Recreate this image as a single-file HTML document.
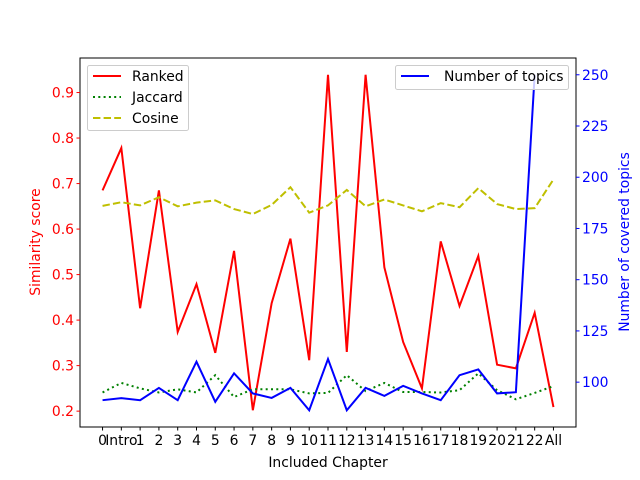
<!DOCTYPE html>
<html><head><meta charset="utf-8"><style>
body{margin:0;background:#fff}
svg{display:block;font-family:"DejaVu Sans","Liberation Sans",sans-serif}
</style></head><body>
<svg id="chart" width="640" height="480" viewBox="0 0 640 480" xmlns="http://www.w3.org/2000/svg">
<rect width="640" height="480" fill="#fff"/>
<g id="plot"></g>
</svg>
<script>
const categories=["0","Intro","1","2","3","4","5","6","7","8","9","10","11","12","13","14","15","16","17","18","19","20","21","22","All"];
const ranked=[0.685,0.778,0.426,0.685,0.374,0.479,0.328,0.552,0.202,0.437,0.579,0.312,0.939,0.330,0.939,0.516,0.352,0.250,0.573,0.431,0.541,0.302,0.294,0.416,0.209];
const jaccard=[0.241,0.262,0.250,0.241,0.248,0.241,0.279,0.231,0.248,0.248,0.248,0.239,0.240,0.279,0.244,0.262,0.242,0.242,0.241,0.246,0.283,0.246,0.226,0.240,0.255];
const cosine=[0.651,0.659,0.652,0.670,0.650,0.658,0.663,0.644,0.633,0.653,0.692,0.636,0.652,0.686,0.650,0.665,0.652,0.639,0.657,0.648,0.690,0.655,0.644,0.646,0.709];
const topics=[91.2,92.2,91.2,97.2,91.2,110,90.4,104.3,94.5,92.3,97.2,86.3,111.3,86.3,97.2,93.3,98.2,94.5,91.2,103.4,106.2,94.5,95.1,250];
const leftTicks=[0.2,0.3,0.4,0.5,0.6,0.7,0.8,0.9];
const rightTicks=[100,125,150,175,200,225,250];

const L=80,R=576,T=58,B=427;
const NS="http://www.w3.org/2000/svg";
const g=document.getElementById('plot');
function el(tag,attrs,text){const e=document.createElementNS(NS,tag);for(const k in attrs)e.setAttribute(k,attrs[k]);if(text!==undefined)e.textContent=text;g.appendChild(e);return e;}
function x(i){const n=categories.length-1;const m=n*0.05;return L+(i+m)/(n+2*m)*(R-L);}
function ext(arrs){let lo=Infinity,hi=-Infinity;arrs.forEach(a=>a.forEach(v=>{lo=Math.min(lo,v);hi=Math.max(hi,v);}));const m=(hi-lo)*0.05;return [lo-m,hi+m];}
const [l0,l1]=ext([ranked,jaccard,cosine]);
const [r0,r1]=ext([topics]);
function yl(v){return B-(v-l0)/(l1-l0)*(B-T);}
function yr(v){return B-(v-r0)/(r1-r0)*(B-T);}
const FS=13.9;

function line(data,yf,color,dash,name){
  const p=el('polyline',{points:data.map((v,i)=>x(i).toFixed(2)+','+yf(v).toFixed(2)).join(' '),fill:'none',stroke:color,'stroke-width':2});
  if(dash)p.setAttribute('stroke-dasharray',dash);
  
  
}
line(ranked,yl,'#ff0000',null,'ranked-line');
line(jaccard,yl,'#008000','2 3.3','jaccard-line');
line(cosine,yl,'#bfbf00','7.4 3.2','cosine-line');
line(topics,yr,'#0000ff',null,'topics-line');

const fr=el('rect',{x:L,y:T,width:R-L,height:B-T,fill:'none',stroke:'#000','stroke-width':1});



categories.forEach((c,i)=>{
  el('line',{x1:x(i),y1:B,x2:x(i),y2:B+3.5,stroke:'#000'});
  const t=el('text',{x:x(i),y:B+18,'font-size':FS,'text-anchor':'middle',fill:'#000'},c);
  
  
});
leftTicks.forEach(v=>{
  el('line',{x1:L,y1:yl(v),x2:L-3.5,y2:yl(v),stroke:'#ff0000'});
  const t=el('text',{x:L-6,y:yl(v)+5,'font-size':FS,'text-anchor':'end',fill:'#ff0000'},v.toFixed(1));
  
  
});
rightTicks.forEach(v=>{
  el('line',{x1:R,y1:yr(v),x2:R+3.5,y2:yr(v),stroke:'#0000ff'});
  const t=el('text',{x:R+6,y:yr(v)+5,'font-size':FS,'text-anchor':'start',fill:'#0000ff'},String(v));
  
  
});
let t=el('text',{x:(L+R)/2,y:467,'font-size':FS,'text-anchor':'middle',fill:'#000'},'Included Chapter');


t=el('text',{x:0,y:0,'font-size':FS,'text-anchor':'middle',fill:'#ff0000',transform:'translate(40,242) rotate(-90)'},'Similarity score');


t=el('text',{x:0,y:0,'font-size':FS,'text-anchor':'middle',fill:'#0000ff',transform:'translate(629,242) rotate(-90)'},'Number of covered topics');



let lg=el('rect',{x:87.5,y:65.5,width:101,height:65,rx:2,fill:'#fff','fill-opacity':0.8,stroke:'#ccc'});


[['Ranked','#ff0000',null],['Jaccard','#008000','2 3.3'],['Cosine','#bfbf00','7.4 3.2']].forEach((d,i)=>{
  const yy=76+i*21;
  const s=el('line',{x1:93,y1:yy,x2:121,y2:yy,stroke:d[1],'stroke-width':2});
  if(d[2])s.setAttribute('stroke-dasharray',d[2]);
  const tt=el('text',{x:132,y:yy+5,'font-size':FS,fill:'#000'},d[0]);
  
  
});
lg=el('rect',{x:395.5,y:65.5,width:173,height:24,rx:2,fill:'#fff','fill-opacity':0.8,stroke:'#ccc'});


el('line',{x1:401,y1:76,x2:429,y2:76,stroke:'#0000ff','stroke-width':2});
t=el('text',{x:444,y:81,'font-size':FS,fill:'#000'},'Number of topics');


</script>
</body></html>
